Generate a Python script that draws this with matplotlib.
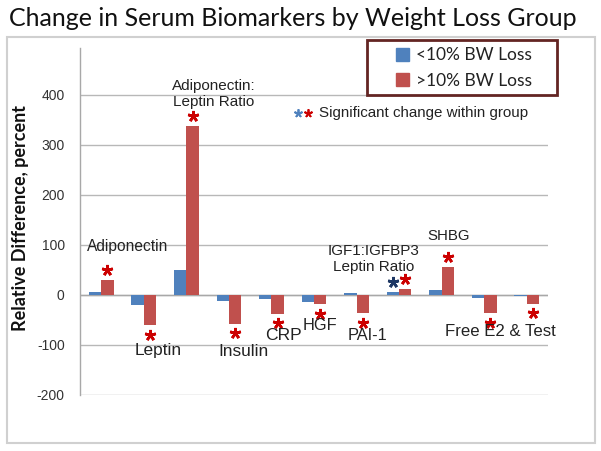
import matplotlib
matplotlib.use("Agg")
import matplotlib.pyplot as plt
import matplotlib.transforms as mtransforms
from matplotlib.patches import Rectangle, Patch
import numpy as np

categories = ["Adiponectin", "Leptin", "Adiponectin:Leptin Ratio", "Insulin", "CRP",
              "HGF", "PAI-1", "IGF1:IGFBP3", "SHBG", "Free E2", "Test"]
under10 = [7, -20, 50, -12, -7, -14, 5, 7, 11, -5, -1]
over10 = [31, -60, 339, -57, -37, -18, -36, 12, 56, -36, -17]
sig_under = [False, False, False, False, False, False, False, True, False, False, False]
sig_over = [True] * 11
yticks = [-200, -100, 0, 100, 200, 300, 400]

labels = [
    ("Adiponectin", 0.63, 96, 11.2),
    ("Adiponectin:\nLeptin Ratio", 2.65, 402, 11.0),
    ("Leptin", 1.34, -112, 12.4),
    ("Insulin", 3.34, -112, 12.4),
    ("CRP", 4.28, -82, 12.6),
    ("HGF", 5.15, -60, 11.8),
    ("PAI-1", 6.26, -80, 11.8),
    ("IGF1:IGFBP3\nLeptin Ratio", 6.40, 72, 11.0),
    ("SHBG", 8.16, 118, 10.8),
    ("Free E2 & Test", 9.38, -72, 12.1),
]

W, H = 601, 451
fig = plt.figure(figsize=(W / 100, H / 100), dpi=100)
fig.patch.set_facecolor("white")

# outer frame
fig.patches.append(Rectangle((7 / W, 1 - 443 / H), (595 - 7) / W, (443 - 37) / H,
                             transform=fig.transFigure, fill=False,
                             edgecolor="#d0d0d0", linewidth=1.5))

ax = fig.add_axes([80 / W, 1 - 395 / H, (548 - 80) / W, (395 - 48) / H])
x = np.arange(len(categories))
bw = 0.29
blue = "#4f81bd"
red = "#c0504d"
ax.bar(x - bw / 2, under10, bw, color=blue, zorder=3)
ax.bar(x + bw / 2, over10, bw, color=red, zorder=3)

ax.set_xlim(-0.5, len(categories) - 0.5)
ax.set_ylim(-200, 494)
ax.set_yticks(yticks)
ax.set_yticklabels([str(v) for v in yticks], fontfamily="Liberation Sans",
                   fontsize=10, color="#333333")
ax.tick_params(axis="y", length=0, pad=11)
ax.set_xticks([])
for s in ["top", "right", "bottom"]:
    ax.spines[s].set_visible(False)
ax.spines["left"].set_color("#a8a8a8")
ax.spines["left"].set_linewidth(1)
ax.grid(axis="y", color="#b8b8b8", linewidth=1, zorder=0)
ax.axhline(0, color="#a8a8a8", linewidth=1, zorder=2)
ax.set_facecolor("white")

# significance stars
off = 7


def star(xv, v, color):
    shift = mtransforms.ScaledTranslation(0, (off if v >= 0 else -off) / 72,
                                          fig.dpi_scale_trans)
    ax.plot([xv], [v], linestyle="none", marker=(5, 2, 0), markersize=8,
            markeredgewidth=1.9, color=color, zorder=4,
            transform=ax.transData + shift)


for i in range(len(categories)):
    if sig_over[i]:
        star(x[i] + bw / 2, over10[i], "#cc0000")
    if sig_under[i]:
        star(x[i] - bw / 2, under10[i], "#1f3864")

for txt, lx, ly, fs in labels:
    ax.text(lx, ly, txt, ha="center", va="center", fontsize=fs,
            fontfamily="Liberation Sans", color="#222222", linespacing=1.15, zorder=5)

# significance note
ax.plot([(298 - 101.25) / 42.45], [364], linestyle="none", marker=(5, 2, 0),
        markersize=6, markeredgewidth=1.3, color="#4f81bd", zorder=5)
ax.plot([(308 - 101.25) / 42.45], [364], linestyle="none", marker=(5, 2, 0),
        markersize=6, markeredgewidth=1.3, color="#cc0000", zorder=5)
ax.text((318 - 101.25) / 42.45, 364, "Significant change within group", ha="left",
        va="center", fontsize=10.9, fontfamily="Liberation Sans", color="#222222")

# legend box
fig.patches.append(Rectangle((367 / W, 1 - 95 / H), 190 / W, 55 / H,
                             transform=fig.transFigure, fill=True, facecolor="white",
                             edgecolor="#632523", linewidth=2, zorder=10))
handles = [Patch(color=blue, label="<10% BW Loss"), Patch(color=red, label=">10% BW Loss")]
leg = fig.legend(handles=handles, loc="center", bbox_to_anchor=(464 / W, 1 - 68 / H),
                 frameon=False, prop={"family": "Lato", "size": 12.5},
                 handlelength=0.75, handleheight=0.75, handletextpad=0.45,
                 labelspacing=0.55)
leg.set_zorder(11)
for t in leg.get_texts():
    t.set_color("#222222")

# title and y label
fig.text(293 / W, 1 - 18 / H, "Change in Serum Biomarkers by Weight Loss Group",
         ha="center", va="center", fontsize=18, fontfamily="Lato", color="#111111")
fig.text(21 / W, 1 - 218 / H, "Relative Difference, percent", rotation=90,
         ha="center", va="center", fontsize=13, fontweight="bold",
         fontfamily="Lato", color="#111111")

fig.savefig("out.png", dpi=100, facecolor="white")
